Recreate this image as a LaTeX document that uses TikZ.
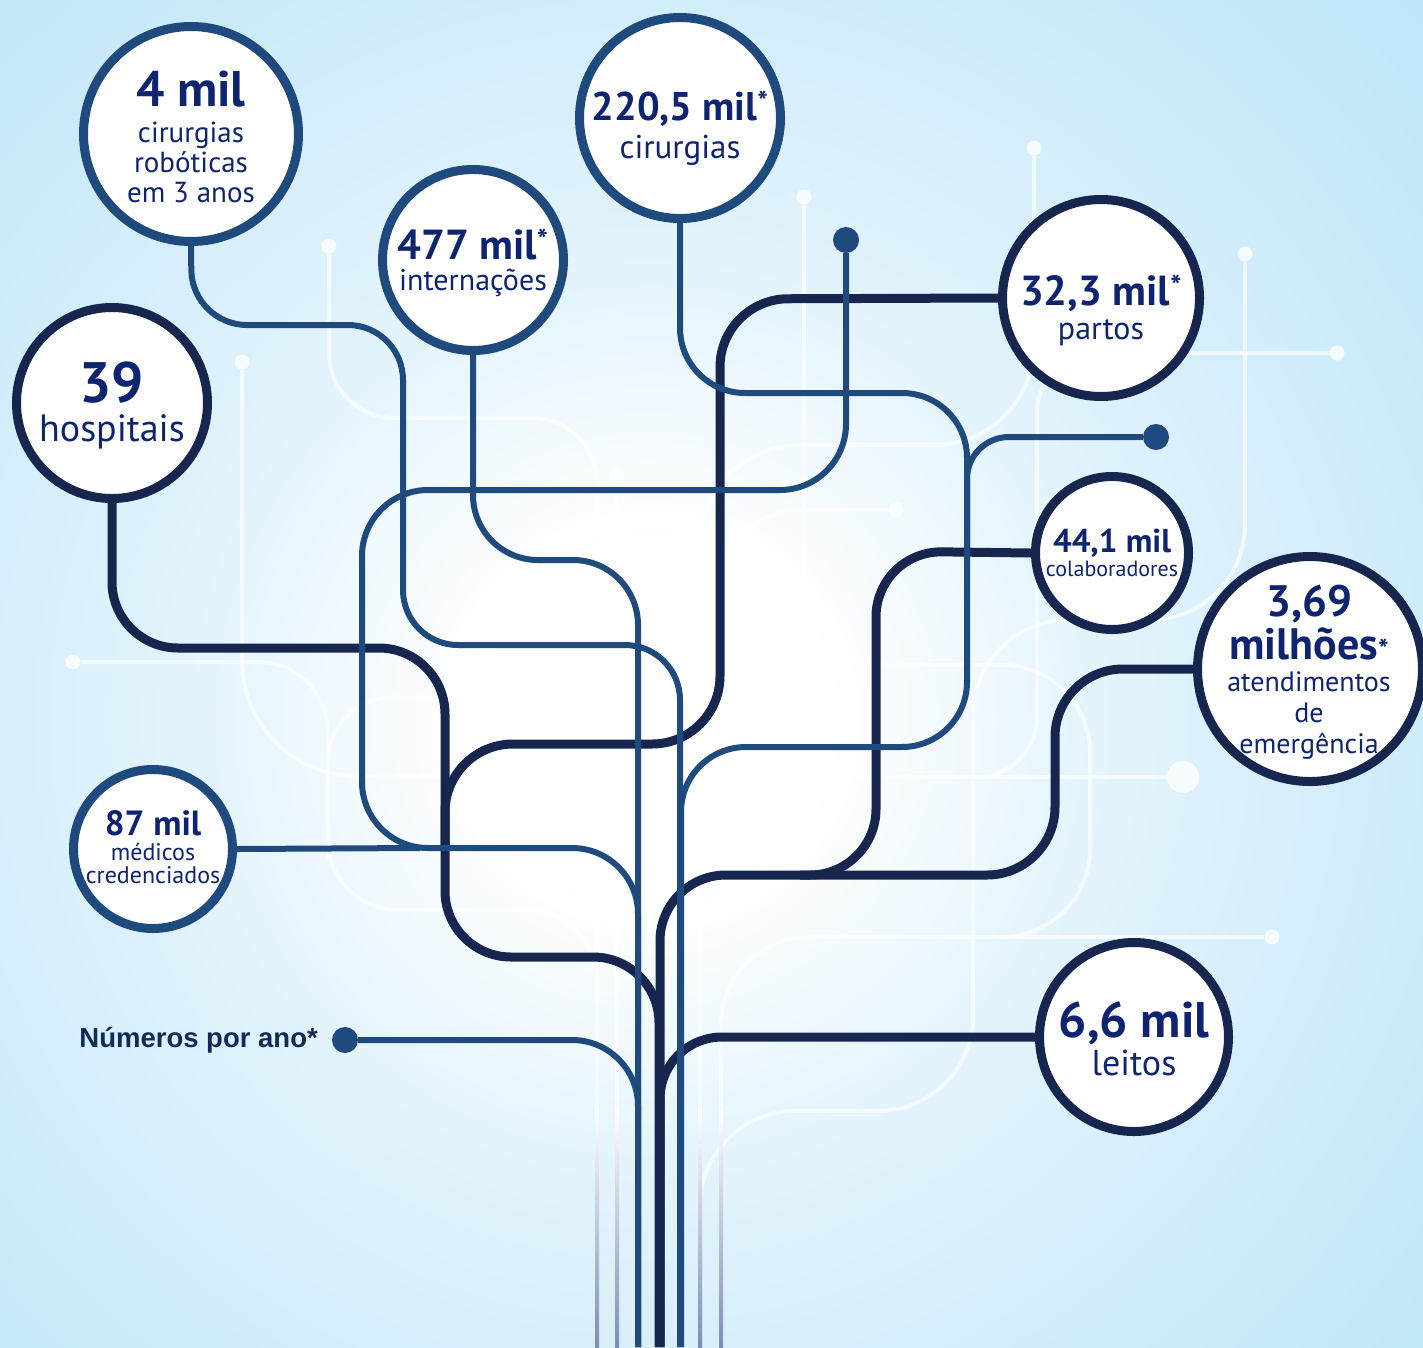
\documentclass[tikz,border=0pt]{standalone}
\usepackage{fontspec}
\setmainfont{PT Sans}
\newfontfamily\notefont{Liberation Sans}
\usetikzlibrary{positioning}

\definecolor{darkline}{RGB}{23,38,79}
\definecolor{midline}{RGB}{31,74,125}
\definecolor{numblue}{RGB}{14,36,112}
\definecolor{noteblue}{RGB}{16,42,90}
\definecolor{bgblue}{RGB}{155,211,245}
\definecolor{bgmid}{RGB}{172,222,247}
\definecolor{bgsoft}{RGB}{205,235,250}
\definecolor{bglight}{RGB}{228,244,253}
\definecolor{stemgray}{RGB}{128,140,182}

\pgfdeclarelayer{back}
\pgfdeclarelayer{wires}
\pgfsetlayers{back,wires,main}
\pgfdeclareradialshading{glow}{\pgfpoint{0bp}{0bp}}{color(0bp)=(white); color(4bp)=(white); color(10bp)=(bglight); color(18bp)=(bgsoft); color(31bp)=(bgmid); color(50bp)=(bgblue)}

\newcommand{\bignum}[2]{{\fontsize{#1}{#1}\selectfont\bfseries #2}}
\newcommand{\labsize}[2]{\fontsize{#1}{#2}\selectfont}

\begin{document}
\begin{tikzpicture}[x=1pt, y=-1pt,
    ring/.style={circle, draw=#1, line width=9, fill=white, inner sep=0},
    stattext/.style={align=center, text=numblue, inner sep=0},
    darkwire/.style={draw=darkline, line width=9, rounded corners=#1},
    midwire/.style={draw=midline, line width=6, rounded corners=#1},
    palewire/.style={draw=white, draw opacity=0.65, line width=4, rounded corners=#1},
    bluedot/.style={circle, fill=midline, inner sep=0, minimum size=26},
    paledot/.style={circle, fill=white, fill opacity=0.8, inner sep=0, minimum size=#1}]

  \useasboundingbox (0,0) rectangle (1423,1347);
  \begin{pgfonlayer}{back}
    \begin{scope}
      \clip (0,0) rectangle (1423,1347);
      \fill[bgblue] (0,0) rectangle (1423,1347);
      \shade[shading=glow] (650,720) circle (1100);
    \end{scope}
  \end{pgfonlayer}

  % the stats
  \node[ring=midline, minimum size=215] (robot) at (191,134) {};
  \node[ring=midline, minimum size=201] (cirurg) at (680,118) {};
  \node[ring=midline, minimum size=181] (intern) at (473,260) {};
  \node[ring=darkline, minimum size=191] (hosp) at (112,403) {};
  \node[ring=darkline, minimum size=197] (partos) at (1101,298) {};
  \node[ring=darkline, minimum size=153] (colab) at (1112,553) {};
  \node[ring=darkline, minimum size=225] (emerg) at (1310,669) {};
  \node[ring=midline, minimum size=159] (medic) at (153,849) {};
  \node[ring=darkline, minimum size=189] (leitos) at (1134,1037) {};

  \node[stattext, font=\labsize{29}{30}] (robot-t) at (191,137)
    {\bignum{50}{4 mil}\\[6pt]cirurgias\\robóticas\\em 3 anos};
  \node[stattext, font=\labsize{33}{33}] (cirurg-t) at (680,128)
    {\bignum{40}{220,5 mil\textsuperscript{*}}\\[5pt]cirurgias};
  \node[stattext, font=\labsize{30}{30}] (intern-t) at (473,263)
    {\bignum{42}{477 mil\textsuperscript{*}}\\[1pt]internações};
  \node[stattext, font=\labsize{38}{37}] (hosp-t) at (112,405)
    {\bignum{57}{39}\\[2pt]hospitais};
  \node[stattext, font=\labsize{32}{32}] (partos-t) at (1101,310)
    {\bignum{42}{32,3 mil\textsuperscript{*}}\\[2pt]partos};
  \node[stattext, font=\labsize{22}{22}] (colab-t) at (1112,553)
    {\bignum{33}{44,1 mil}\\[2pt]colaboradores};
  \node[stattext, font=\labsize{28}{31}] (emerg-t) at (1309,672)
    {\bignum{44}{3,69}\\[4pt]\bignum{44}{milhões{\fontsize{28}{28}\selectfont*}}\\[1pt]atendimentos\\de\\emergência};
  \node[stattext, font=\labsize{24}{23}] (medic-t) at (153,847)
    {\bignum{35}{87 mil}\\[2pt]médicos\\credenciados};
  \node[stattext, font=\labsize{36}{35}] (leitos-t) at (1134,1039)
    {\bignum{50}{6,6 mil}\\[3pt]leitos};

  \node[anchor=east, inner sep=0, text=noteblue,
    font=\notefont\bfseries\fontsize{27.5}{27.5}\selectfont] (note) at (318,1040) {Números por ano*};

  \begin{pgfonlayer}{wires}
    % pale background wiring
    \node[paledot=15] (p1) at (329,246) {};
    \node[paledot=15] (p2) at (242,362) {};
    \node[paledot=32] (p3) at (1183,777) {};
    \node[paledot=15] (p4) at (73,662) {};
    \node[paledot=15] (p5) at (617,475) {};
    \node[paledot=15] (p6) at (804,197) {};
    \node[paledot=15] (p7) at (1034,148) {};
    \node[paledot=15] (p8) at (896,510) {};
    \node[paledot=15] (p9) at (1272,937) {};
    \node[paledot=15] (p10) at (1245,254) {};
    \node[paledot=15] (p11) at (1337,353) {};
    \coordinate (s1) at (597,1347);
    \coordinate (s2) at (617,1347);
    \coordinate (s3) at (700,1347);
    \coordinate (s4) at (721,1347);

    \draw[palewire=65] (p1) -- (329,418) -- (597,418) -- (s1);
    \draw[palewire=115] (p2) -- (242,776) -- (p3);
    \draw[palewire=70] (p4) -- (328,662) -- (328,910) -- (597,910) -- (597,1000);
    \draw[palewire=65] (328,860) -- (328,697) -- (640,697);
    \draw[palewire=0] (p5) -- (s2);
    \draw[palewire=88] (p6) -- (804,665) -- (1090,665) -- (1090,937) -- (721,937) -- (s4);
    \draw[palewire=100] (p7) -- (1034,445) -- (700,445) -- (s3);
    \draw[palewire=80] (p8) -- (720,510) -- (720,700);
    \draw[palewire=0] (p9) -- (1000,937);
    \draw[palewire=95] (p10) -- (1245,620) -- (973,620) -- (973,1111) -- (700,1111) -- (700,1200);
    \draw[palewire=60] (p11) -- (1037,353) -- (1037,777) -- (900,777);
    \foreach \x in {597,617,700,721}
      \shade[top color=white, bottom color=stemgray] (\x-2,1110) rectangle (\x+2,1347);

    % dark branches
    \coordinate (trunk) at (659,1347);
    \draw[darkwire=66] (hosp.south) -- (112,648) -- (445,648) -- (445,957) -- (659,957) -- (trunk);
    \draw[darkwire=68] (partos.west) -- (720,299) -- (720,744) -- (445,744) -- (445,850);
    \draw[darkwire=66] (colab.west) -- (876,551) -- (876,875) -- (660,875) -- (660,1347);
    \draw[darkwire=68] (emerg.west) -- (1055,669) -- (1055,875) -- (800,875);
    \draw[darkwire=62] (leitos.west) -- (660,1037) -- (660,1347);

    % medium branches
    \node[bluedot] (dota) at (846,240) {};
    \node[bluedot] (dotb) at (345,1040) {};
    \node[bluedot] (dotc) at (1156,437) {};
    \draw[midwire=55] (robot.south) -- (192,325) -- (403,325) -- (403,645) -- (680,645) -- (680,1347);
    \draw[midwire=65] (intern.south) -- (473,560) -- (638,560) -- (638,1347);
    \draw[midwire=65] (cirurg.south) -- (680,393) -- (967,393) -- (967,747) -- (681,747) -- (681,1347);
    \draw[midwire=42] (dotc) -- (967,437) -- (967,560);
    \draw[midwire=66] (dota) -- (846,490) -- (362,490) -- (362,848) -- (638,848) -- (638,1347);
    \draw[midwire=0] (medic.east) -- (420,848);
    \draw[midwire=66] (dotb) -- (638,1040) -- (638,1347);
  \end{pgfonlayer}
\end{tikzpicture}
\end{document}
